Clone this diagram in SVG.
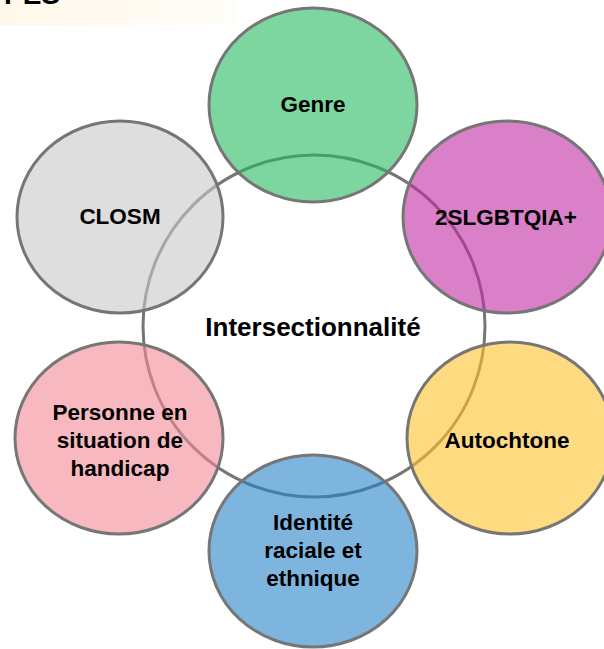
<svg xmlns="http://www.w3.org/2000/svg" width="604" height="649" viewBox="0 0 604 649">
<defs>
<linearGradient id="band" x1="0" y1="0" x2="1" y2="0">
<stop offset="0" stop-color="#FFF8EA"/>
<stop offset="1" stop-color="#FFFDF8"/>
</linearGradient>
</defs>
<style>
.node{stroke:#767676;stroke-width:3;fill-opacity:0.6}
.lbl{font-family:"Liberation Sans",Arial,sans-serif;font-weight:bold;font-size:22.5px;fill:#000;text-anchor:middle;dominant-baseline:central}
.center{stroke:#767676;stroke-width:3;fill:none}
</style>
<rect x="0" y="0" width="604" height="649" fill="#ffffff"/>
<rect x="0" y="0" width="236" height="25" fill="url(#band)"/>
<text x="4" y="4" style="font-family:'Liberation Sans',Arial,sans-serif;font-weight:bold;font-size:28px;fill:#000">PES</text>
<g id="connectors">
<circle class="center" cx="314" cy="326" r="171"/>
</g>
<g id="genre">
<ellipse class="node" cx="313" cy="105" rx="104" ry="97" fill="#26BB61"/>
<text class="lbl" x="313" y="104">Genre</text>
</g>
<g id="closm">
<ellipse class="node" cx="120" cy="217" rx="103" ry="96" fill="#C8C8C8"/>
<text class="lbl" x="120" y="216">CLOSM</text>
</g>
<g id="lgbt">
<ellipse class="node" cx="507" cy="217" rx="104" ry="96" fill="#C12BA3"/>
<text class="lbl" x="506" y="217">2SLGBTQIA+</text>
</g>
<g id="autochtone">
<ellipse class="node" cx="510" cy="438" rx="103" ry="96" fill="#FDC32B"/>
<text class="lbl" x="507" y="440">Autochtone</text>
</g>
<g id="identite">
<ellipse class="node" cx="313" cy="551" rx="104" ry="96" fill="#2684C8"/>
<text class="lbl" x="313" y="522">Identité</text>
<text class="lbl" x="313" y="550">raciale et</text>
<text class="lbl" x="313" y="578">ethnique</text>
</g>
<g id="handicap">
<ellipse class="node" cx="119" cy="438" rx="104" ry="96" fill="#F38996"/>
<text class="lbl" x="120" y="412">Personne en</text>
<text class="lbl" x="120" y="440">situation de</text>
<text class="lbl" x="120" y="468">handicap</text>
</g>
<g id="intersectionnalite">
<text class="lbl" x="313" y="327" style="font-size:26px">Intersectionnalité</text>
</g>
</svg>
